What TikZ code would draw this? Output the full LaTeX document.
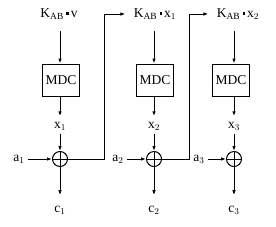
\documentclass[tikz,border=0pt]{standalone}
\usepackage{fontspec}
\setmainfont{Liberation Serif}
\usetikzlibrary{arrows.meta}
\newcommand{\sqdot}{\,\raisebox{0.45ex}{\rule{2.4pt}{2.4pt}}\,}
\begin{document}
\begin{tikzpicture}[x=1pt,y=-1pt,
  >={Latex[length=5pt,width=3.5pt]},
  every path/.style={line width=1pt},
  lbl/.style={inner sep=1pt,font=\fontsize{13.5}{15}\selectfont},
  mdcbox/.style={draw,line width=1pt,minimum width=37pt,minimum height=32pt,inner sep=0pt,font=\fontsize{13.5}{15}\selectfont},
  xorc/.style={draw,circle,line width=1pt,minimum size=15pt,inner sep=0pt}]
\useasboundingbox (0,0) rectangle (276,226);
% column 1
\node[lbl] (k1) at (59,14) {K$_{\mathrm{AB}}$\sqdot v};
\node[mdcbox] (m1) at (61,80) {MDC};
\node[lbl] (x1) at (60,126) {x$_1$};
\node[xorc] (o1) at (60,159) {};
\node[lbl] (a1) at (19,159) {a$_1$};
\node[lbl] (c1) at (60,210) {c$_1$};
% column 2
\node[lbl] (k2) at (155,14) {K$_{\mathrm{AB}}$\sqdot x$_1$};
\node[mdcbox] (m2) at (155,80) {MDC};
\node[lbl] (x2) at (154,126) {x$_2$};
\node[xorc] (o2) at (154,159) {};
\node[lbl] (a2) at (118,159) {a$_2$};
\node[lbl] (c2) at (154,210) {c$_2$};
% column 3
\node[lbl] (k3) at (238,14) {K$_{\mathrm{AB}}$\sqdot x$_2$};
\node[mdcbox] (m3) at (231,80) {MDC};
\node[lbl] (x3) at (234,126) {x$_3$};
\node[xorc] (o3) at (234,159) {};
\node[lbl] (a3) at (199,159) {a$_3$};
\node[lbl] (c3) at (234,210) {c$_3$};
% turning points
\coordinate (r1) at (104,159);
\coordinate (t1) at (104,14);
\coordinate (r2) at (189,159);
\coordinate (t2) at (189,14);
% plus signs
\foreach \o in {o1,o2,o3}{
  \draw (\o.north) -- (\o.south);
  \draw (\o.west) -- (\o.east);
}
% connectors
\foreach \k/\m/\x/\o/\a/\c in {k1/m1/x1/o1/a1/c1, k2/m2/x2/o2/a2/c2, k3/m3/x3/o3/a3/c3}{
  \draw[->,shorten <=10pt] (\k.south -| \o) -- (\m.north -| \o);
  \draw[->,shorten >=4pt] (\m.south -| \o) -- (\x.north);
  \draw[->,shorten <=2pt] (\x.south) -- (\o.north);
  \draw[->,shorten <=2pt] (\a.east) -- (\o.west);
  \draw[->,shorten >=9pt] (\o.south) -- (\c.north);
}
\draw[->,shorten >=7pt] (o1.east) -- (r1) -- (t1) -- (k2.west);
\draw[->,shorten >=7pt] (o2.east) -- (r2) -- (t2) -- (k3.west);
\end{tikzpicture}
\end{document}
